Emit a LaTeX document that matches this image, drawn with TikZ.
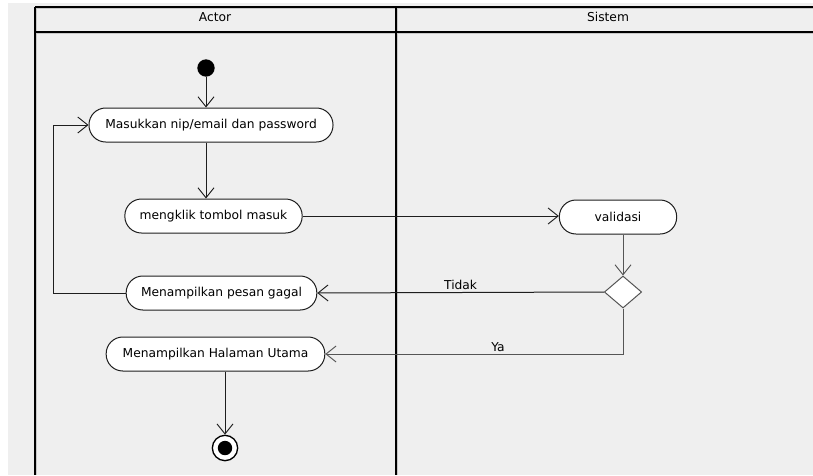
\documentclass[tikz,border=0pt]{standalone}
\usepackage{fontspec}
\setmainfont{DejaVu Sans}
\usetikzlibrary{arrows.meta,shapes.geometric}

\definecolor{lanebg}{RGB}{239,239,239}
\definecolor{laneshade}{RGB}{200,200,200}
\definecolor{edge}{RGB}{30,30,30}
\definecolor{greyedge}{RGB}{85,85,85}

\begin{document}
\begin{tikzpicture}[x=0.75pt,y=-0.75pt,
  every node/.style={font=\fontsize{9.2}{11}\selectfont},
  lane/.style={draw=black, line width=0.9pt},
  laneshadow/.style={draw=laneshade, line width=0.9pt},
  activity/.style={draw=edge, fill=white, line width=0.75pt, rectangle,
    rounded corners=12.5pt, minimum height=25.5pt, inner sep=0pt},
  decision/.style={diamond, draw=greyedge, fill=white, line width=0.75pt,
    minimum width=28pt, minimum height=24pt, inner sep=0pt},
  initial/.style={circle, fill=black, minimum size=13pt, inner sep=0pt},
  final/.style={circle, draw=black, fill=white, line width=1pt,
    minimum size=19pt, inner sep=0pt,
    path picture={\fill[black] (path picture bounding box.center) circle (5.4pt);}},
  flow/.style={draw=edge, line width=0.75pt,
    -{Straight Barb[length=7.5pt, width=12pt, line width=0.7pt]}},
  greyflow/.style={flow, draw=greyedge},
  guard/.style={font=\fontsize{9.2}{11}\selectfont, inner sep=1.5pt}
]
% canvas
\useasboundingbox (0,0) rectangle (813,475);
\fill[white] (0,0) rectangle (813,475);
\fill[lanebg] (8,3) rectangle (813,475);

% swimlane frame
\draw[laneshadow] (36,8.5) -- (813,8.5);
\draw[laneshadow] (36,33.5) -- (813,33.5);
\draw[laneshadow] (36.5,8) -- (36.5,475);
\draw[laneshadow] (397.5,8) -- (397.5,475);
\draw[lane] (35,7) -- (813,7);
\draw[lane] (35,32) -- (813,32);
\draw[lane] (35,7) -- (35,475);
\draw[lane] (396,7) -- (396,475);
\node (actor) at (215,17) {Actor};
\node (sistem) at (608,17) {Sistem};

% activities
\node[initial] (start) at (206,68) {};
\node[activity, minimum width=183pt] (m1) at (211,125) {Masukkan nip/email dan password};
\node[activity, minimum width=133pt] (m2) at (213.5,216) {mengklik tombol masuk};
\node[activity, minimum width=88pt] (val) at (618,217) {validasi};
\node[decision] (dec) at (623,292) {};
\node[activity, minimum width=143pt] (gagal) at (221.5,293) {Menampilkan pesan gagal};
\node[activity, minimum width=164pt] (utama) at (215.5,354) {Menampilkan Halaman Utama};
\node[final] (end) at (225,448) {};
\coordinate (loop) at (53,0);

% control flow
\draw[flow] (start) -- (m1.north -| start);
\draw[flow] (m1.south -| start) -- (m2.north -| start);
\draw[flow] (m2.east) -- (m2.east -| val.west);
\draw[greyflow] (val.south -| dec) -- (dec.north);
\draw[flow] (dec.west) -- node[guard, above, pos=0.5] {Tidak} (gagal.east);
\draw[flow] (gagal.west) -- (gagal.west -| loop) -- (m1.west -| loop) -- (m1.west);
\draw[greyflow] (dec.south) -- (dec |- utama.east) -- node[guard, above, pos=0.42] {Ya} (utama.east);
\draw[flow] (utama.south -| end) -- (end);
\end{tikzpicture}
\end{document}
